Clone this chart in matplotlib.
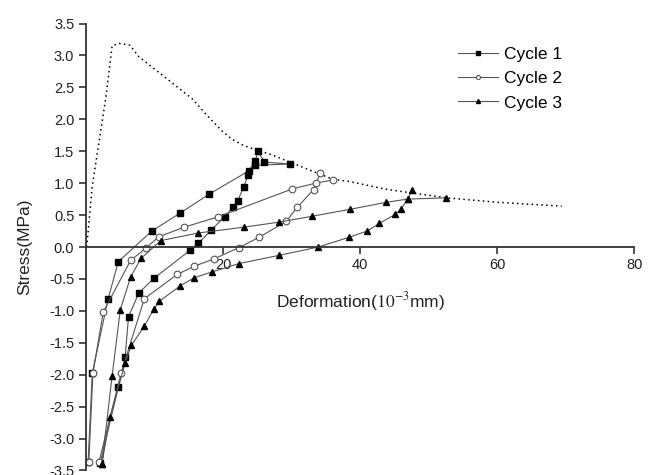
#!/usr/bin/env python
import numpy as np
import matplotlib as mpl
mpl.use('Agg')
import matplotlib.pyplot as plt

plt.rcParams['font.family'] = ['Liberation Sans', 'DejaVu Sans']
plt.rcParams['mathtext.fontset'] = 'stix'

nan = np.nan

# envelope (dotted)
env_x = [0.1, 0.9, 1.9, 2.9, 3.8, 4.8, 6.4, 7.7, 11.5, 15.5, 18.0, 20.0,
         21.4, 23.0, 25.1, 26.7, 31.6, 36.0, 38.2, 44.0, 52.6, 60.0, 69.4]
env_y = [0.0, 0.95, 1.65, 2.35, 3.15, 3.19, 3.16, 2.98, 2.66, 2.32, 2.02, 1.80,
         1.68, 1.59, 1.51, 1.46, 1.25, 1.06, 1.03, 0.90, 0.77, 0.70, 0.64]

# cycle 1 (squares)
c1_x = [0.3, 0.9, 3.2, 4.7, 9.6, 13.7, 18.0, 23.7, 24.7, 25.1, 26.0, 29.8,
        24.7, 23.6, 23.0, 22.1, 21.4, 20.2, 18.3, 16.4, 15.2, 9.9, 7.7, 6.2, 5.7, 4.7, 2.05]
c1_y = [-3.37, -1.98, -0.82, -0.23, 0.25, 0.53, 0.83, 1.19, 1.35, 1.50, 1.33, 1.30,
        1.28, 1.12, 0.94, 0.72, 0.62, 0.47, 0.27, 0.06, -0.05, -0.49, -0.72, -1.09, -1.72, -2.20, -3.39]

# cycle 2 (open circles)
c2_x = [0.4, 1.0, 2.5, 6.5, 8.7, 10.6, 14.3, 19.2, 30.1, 33.5, 36.0, nan,
        34.2, 33.2, 30.8, 29.2, 25.2, 22.3, 18.6, 15.8, 13.3, 8.5, 5.1, 1.9]
c2_y = [-3.37, -1.98, -1.02, -0.21, -0.02, 0.16, 0.31, 0.47, 0.91, 1.00, 1.05, nan,
        1.16, 0.90, 0.62, 0.40, 0.15, -0.01, -0.19, -0.30, -0.43, -0.81, -1.98, -3.36]

# cycle 3 (triangles)
c3_x = [2.3, 3.8, 5.0, 6.5, 8.0, 10.9, 16.4, 23.0, 28.2, 32.9, 38.5, 43.8, 46.9, 52.5, nan,
        47.6, 46.9, 46.0, 45.1, 42.8, 41.0, 38.3, 33.9, 28.2, 22.3, 18.4, 15.8, 13.7,
        10.7, 9.9, 8.5, 6.6, 5.7, 3.5, 2.3]
c3_y = [-3.40, -2.02, -0.98, -0.47, -0.18, 0.10, 0.22, 0.31, 0.39, 0.48, 0.59, 0.70, 0.75, 0.77, nan,
        0.90, 0.75, 0.60, 0.51, 0.37, 0.25, 0.15, 0.00, -0.13, -0.26, -0.39, -0.48, -0.61,
        -0.85, -0.97, -1.24, -1.54, -1.82, -2.66, -3.40]

x_ticks = [20, 40, 60, 80]
y_ticks = [-3.5, -3.0, -2.5, -2.0, -1.5, -1.0, -0.5, 0.0, 0.5, 1.0, 1.5, 2.0, 2.5, 3.0, 3.5]
labels = ['Cycle 1', 'Cycle 2', 'Cycle 3']


def main():
    fig = plt.figure(figsize=(6.52, 4.75), dpi=100)
    ax = fig.add_axes([0.132, 0.0095, 0.841, 0.941])

    line_col = '#555555'
    ax.plot(env_x, env_y, color='black', lw=1.1, ls=(0, (1, 2.2)))
    ax.plot(c1_x, c1_y, color=line_col, lw=0.8, marker='s', ms=4.2,
            mfc='black', mec='black', label=labels[0])
    ax.plot(c2_x, c2_y, color=line_col, lw=0.8, marker='o', ms=4.8,
            mfc='white', mec='#555555', mew=0.8, label=labels[1])
    ax.plot(c3_x, c3_y, color=line_col, lw=0.8, marker='^', ms=4.8,
            mfc='black', mec='black', label=labels[2])

    ax.set_xlim(0, 80)
    ax.set_ylim(-3.5, 3.5)

    # axis at stress = 0, no box
    ax.spines['top'].set_visible(False)
    ax.spines['right'].set_visible(False)
    ax.spines['bottom'].set_position(('data', 0))
    for s in ('left', 'bottom'):
        ax.spines[s].set_linewidth(1.3)
        ax.spines[s].set_color('#333333')

    ax.set_xticks(x_ticks)
    ax.set_yticks(y_ticks)
    ax.set_yticklabels([f'{v:.1f}' for v in y_ticks])
    ax.tick_params(direction='out', length=5, width=1.2, color='#333333',
                   labelsize=10.5, labelcolor='#222222')
    ax.tick_params(axis='x', pad=3)

    ax.set_xlabel(r'Deformation($10^{-3}$mm)', fontsize=12.5, color='#222222', labelpad=13)
    ax.set_ylabel('Stress(MPa)', fontsize=12.5, color='#222222', labelpad=12)

    ax.legend(loc='upper left', bbox_to_anchor=(458 / 652, 1 - 47 / 475),
              bbox_transform=fig.transFigure, frameon=False, fontsize=12.5,
              handlelength=2.3, handletextpad=0.35, labelspacing=0.52,
              borderpad=0, borderaxespad=0, markerscale=0.6)

    fig.savefig('out.png', dpi=100)


if __name__ == '__main__':
    main()
